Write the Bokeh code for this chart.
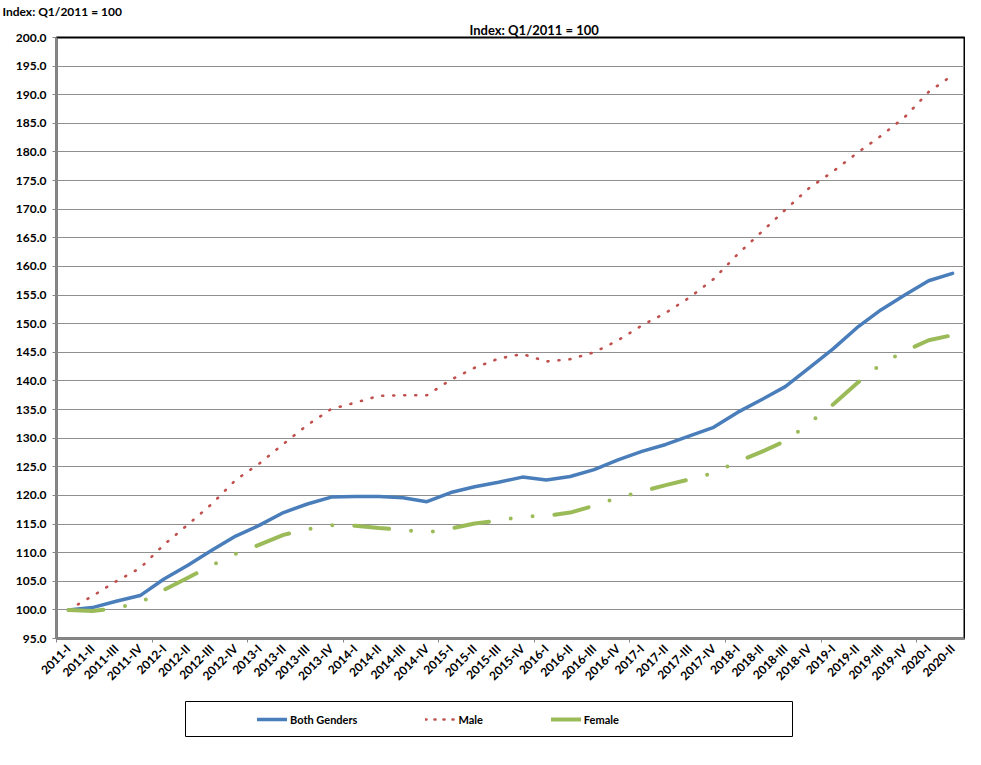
import numpy as np
from bokeh.plotting import figure
from bokeh.models import (Range1d, FixedTicker, PrintfTickFormatter, Title,
                          Legend, LegendItem, ColumnDataSource)
from bokeh.layouts import column
from bokeh.embed import file_html
from bokeh.resources import INLINE

# ---------------- data ----------------
quarters = ["2011-I", "2011-II", "2011-III", "2011-IV",
            "2012-I", "2012-II", "2012-III", "2012-IV",
            "2013-I", "2013-II", "2013-III", "2013-IV",
            "2014-I", "2014-II", "2014-III", "2014-IV",
            "2015-I", "2015-II", "2015-III", "2015-IV",
            "2016-I", "2016-II", "2016-III", "2016-IV",
            "2017-I", "2017-II", "2017-III", "2017-IV",
            "2018-I", "2018-II", "2018-III", "2018-IV",
            "2019-I", "2019-II", "2019-III", "2019-IV",
            "2020-I", "2020-II"]

both_genders = [100.0, 100.4, 101.5, 102.5, 105.4, 107.8, 110.4, 112.9,
                114.8, 117.0, 118.5, 119.7, 119.8, 119.8, 119.6, 118.9,
                120.5, 121.5, 122.3, 123.2, 122.7, 123.3, 124.5, 126.2,
                127.7, 128.9, 130.4, 131.9, 134.5, 136.7, 139.0, 142.3,
                145.6, 149.3, 152.4, 155.0, 157.5, 158.8]

male = [100.0, 102.4, 105.0, 107.3, 111.4, 114.9, 118.5, 122.7,
        125.6, 129.0, 132.3, 135.1, 136.2, 137.4, 137.5, 137.5,
        140.2, 142.3, 143.9, 144.7, 143.4, 143.8, 145.0, 147.1,
        149.7, 151.9, 154.6, 157.8, 162.1, 166.0, 169.9, 173.7,
        176.6, 179.8, 182.8, 186.1, 190.5, 193.4]

female = [100.0, 99.8, 100.3, 101.3, 103.5, 105.6, 107.8, 109.8,
          111.4, 113.1, 114.1, 114.8, 114.7, 114.3, 114.0, 113.5,
          114.2, 115.1, 115.6, 116.3, 116.4, 117.0, 118.2, 119.6,
          120.7, 121.8, 122.8, 123.9, 125.9, 127.6, 129.5, 132.6,
          135.9, 139.6, 142.9, 145.2, 147.1, 148.0]

y_ticks = [95.0, 100.0, 105.0, 110.0, 115.0, 120.0, 125.0, 130.0, 135.0,
           140.0, 145.0, 150.0, 155.0, 160.0, 165.0, 170.0, 175.0, 180.0,
           185.0, 190.0, 195.0, 200.0]

series_names = ["Both Genders", "Male", "Female"]
title_text = "Index: Q1/2011 = 100"

# ---------------- styles ----------------
FONT = "Lato"
BLUE = "#4A7EBB"
RED = "#C0504D"
GREEN = "#9BBB59"
GRID = "#8F8F8F"
AXIS = "#868686"

idx = list(range(len(quarters)))
src = ColumnDataSource(dict(x=idx, both=both_genders, male=male, female=female))

p = figure(width=965, height=695,
           x_range=Range1d(-0.5, len(quarters) - 0.5),
           y_range=Range1d(95, 200),
           output_backend="svg", toolbar_location=None,
           min_border_left=56, min_border_right=1,
           min_border_top=0, min_border_bottom=57)
p.background_fill_color = "white"
p.border_fill_color = "white"
p.outline_line_color = "black"
p.outline_line_width = 2

# titles: left one at the very top, centred one just above the plot area
p.title.text = title_text
p.title.align = "left"
p.title.offset = -54
p.title.standoff = 2
p.title.text_font = FONT
p.title.text_font_style = "bold"
p.title.text_font_size = "12px"
p.title.text_color = "black"
p.add_layout(Title(text=title_text, align="left", offset=413, standoff=0,
                   text_font=FONT, text_font_style="bold", text_font_size="13px",
                   text_color="black"), "above")

# x axis
p.xaxis.ticker = FixedTicker(ticks=idx,
                             minor_ticks=[i - 0.5 for i in range(0, len(quarters), 4)])
p.xaxis.major_label_overrides = {i: q for i, q in enumerate(quarters)}
p.xaxis.major_label_orientation = np.pi / 4
p.xaxis.major_tick_out = 0
p.xaxis.major_tick_in = 0
p.xaxis.minor_tick_out = 4
p.xaxis.minor_tick_in = 0
p.xaxis.minor_tick_line_color = AXIS
p.xaxis.axis_line_color = AXIS
p.xaxis.axis_line_width = 2
p.xaxis.major_label_text_font = FONT
p.xaxis.major_label_text_font_style = "bold"
p.xaxis.major_label_text_font_size = "12px"
p.xaxis.major_label_text_color = "black"
p.xaxis.major_label_standoff = 4

# y axis
p.yaxis.ticker = FixedTicker(ticks=y_ticks)
p.yaxis.formatter = PrintfTickFormatter(format="%.1f")
p.yaxis.major_tick_out = 4
p.yaxis.major_tick_in = 0
p.yaxis.minor_tick_out = 0
p.yaxis.minor_tick_in = 0
p.yaxis.major_tick_line_color = AXIS
p.yaxis.axis_line_color = AXIS
p.yaxis.axis_line_width = 2
p.yaxis.major_label_text_font = FONT
p.yaxis.major_label_text_font_style = "bold"
p.yaxis.major_label_text_font_size = "12px"
p.yaxis.major_label_text_color = "black"
p.yaxis.major_label_standoff = 6

p.xgrid.visible = False
p.ygrid.grid_line_color = GRID
p.ygrid.grid_line_width = 1

# lines
p.line("x", "both", source=src, line_color=BLUE, line_width=3.5,
       line_join="round", line_cap="round")
p.line("x", "male", source=src, line_color=RED, line_width=2.6,
       line_dash="1 10", line_cap="round")
p.line("x", "female", source=src, line_color=GREEN, line_width=4,
       line_dash="35 22 0 22 0 22", line_cap="round", line_join="round")

# ---------------- legend box ----------------
p2 = figure(width=965, height=49, x_range=Range1d(0, 1), y_range=Range1d(0, 1),
            output_backend="svg", toolbar_location=None,
            x_axis_type=None, y_axis_type=None,
            min_border_left=185, min_border_right=173,
            min_border_top=6, min_border_bottom=8)
p2.grid.visible = False
p2.outline_line_color = "black"
p2.outline_line_width = 1
p2.background_fill_color = "white"
p2.border_fill_color = "white"

# legend proxies: same data, but outside the (0..1) view of this small plot
l1 = p2.line("x", "both", source=src, line_color=BLUE, line_width=3.5, line_cap="round")
l2 = p2.line("x", "male", source=src, line_color=RED, line_width=2.6,
             line_dash="1 8", line_cap="round")
l3 = p2.line("x", "female", source=src, line_color=GREEN, line_width=4, line_cap="round")

legend = Legend(items=[LegendItem(label=series_names[0], renderers=[l1]),
                       LegendItem(label=series_names[1], renderers=[l2]),
                       LegendItem(label=series_names[2], renderers=[l3])],
                location=(72, 7), orientation="horizontal",
                glyph_width=30, glyph_height=20, label_height=20,
                label_standoff=3, spacing=68, padding=0, margin=0,
                border_line_alpha=0, background_fill_alpha=0,
                label_text_font=FONT, label_text_font_style="bold",
                label_text_font_size="11px", label_text_color="black")
p2.add_layout(legend)

for fig in (p, p2):
    if "frame_align" in fig.properties():
        fig.frame_align = False

layout = column(p, p2, spacing=0)
open("out.html", "w").write(file_html(layout, INLINE))
